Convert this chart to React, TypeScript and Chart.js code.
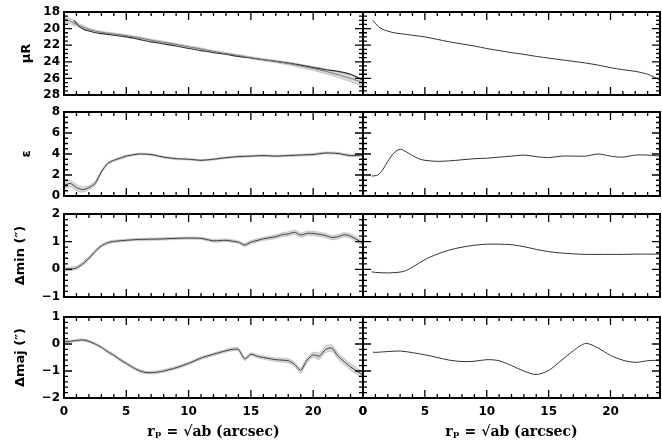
import React, { useEffect, useRef } from "react";
import { Chart, registerables } from "chart.js";

Chart.register(...registerables);

const W = 662;
const H = 445;

// ---------- tick labels ----------
const xMajorTicks = [0, 5, 10, 15, 20];
const muTicks = [18, 20, 22, 24, 26, 28];
const epsTicks = [0, 2, 4, 6, 8];
const dminTicks = [-1, 0, 1, 2];
const dmajTicks = [-2, -1, 0, 1];

// ---------- surface brightness (observed, left) ----------
const xMuObs = [0, 0.5, 1, 1.5, 2, 2.5, 3, 4, 5, 6, 7, 8, 9, 10, 11, 12, 13, 14, 15, 16, 17, 18, 19, 20, 21, 22, 23, 24];
const muObs = [18.8, 19.1, 19.5, 19.8, 20.1, 20.3, 20.45, 20.65, 20.85, 21.1, 21.4, 21.65, 21.9, 22.2, 22.45, 22.75, 23.0, 23.25, 23.5, 23.75, 23.95, 24.2, 24.5, 24.8, 25.15, 25.55, 26.0, 26.5];
const muErr = [0.45, 0.35, 0.25, 0.2, 0.15, 0.15, 0.12, 0.12, 0.12, 0.12, 0.12, 0.12, 0.12, 0.12, 0.12, 0.12, 0.12, 0.12, 0.12, 0.14, 0.15, 0.18, 0.2, 0.25, 0.3, 0.35, 0.4, 0.45];

// ---------- surface brightness (model, right) ----------
const xMuMod = [0.8, 1.2, 1.6, 2, 2.5, 3, 4, 5, 6, 7, 8, 9, 10, 11, 12, 13, 14, 15, 16, 17, 18, 19, 20, 21, 22, 23, 24];
const muMod = [19.0, 19.7, 20.1, 20.3, 20.5, 20.6, 20.8, 21.0, 21.3, 21.6, 21.85, 22.1, 22.4, 22.65, 22.9, 23.1, 23.35, 23.55, 23.75, 23.95, 24.15, 24.4, 24.7, 24.95, 25.15, 25.5, 26.2];

// ---------- ellipticity (observed, left) ----------
const xEpsObs = [0, 0.5, 1, 1.5, 2, 2.5, 3, 3.5, 4, 4.5, 5, 6, 7, 8, 9, 10, 11, 12, 13, 14, 15, 16, 17, 18, 19, 20, 21, 22, 23, 24];
const epsObs = [1.0, 1.2, 0.8, 0.6, 0.8, 1.2, 2.3, 3.1, 3.4, 3.6, 3.8, 4.0, 3.95, 3.7, 3.55, 3.5, 3.4, 3.5, 3.65, 3.75, 3.8, 3.85, 3.8, 3.85, 3.9, 3.95, 4.1, 4.05, 3.85, 3.9];
const epsErr = [0.35, 0.3, 0.3, 0.25, 0.2, 0.2, 0.15, 0.1, 0.1, 0.1, 0.1, 0.08, 0.08, 0.08, 0.08, 0.08, 0.08, 0.08, 0.08, 0.08, 0.08, 0.08, 0.08, 0.08, 0.1, 0.1, 0.1, 0.1, 0.12, 0.12];

// ---------- ellipticity (model, right) ----------
const xEpsMod = [0.7, 1.2, 1.6, 2, 2.5, 3, 3.5, 4, 4.5, 5, 6, 7, 8, 9, 10, 11, 12, 13, 14, 15, 16, 17, 18, 19, 20, 21, 22, 23, 24];
const epsMod = [1.9, 2.0, 2.5, 3.3, 4.1, 4.45, 4.2, 3.85, 3.55, 3.4, 3.3, 3.35, 3.45, 3.55, 3.6, 3.7, 3.8, 3.9, 3.75, 3.65, 3.8, 3.8, 3.8, 4.0, 3.8, 3.7, 3.9, 3.9, 3.8];

// ---------- Δmin (observed, left) ----------
const xDminObs = [0, 0.5, 1, 1.5, 2, 2.5, 3, 3.5, 4, 5, 6, 7, 8, 9, 10, 11, 12, 13, 14, 14.5, 15, 16, 17, 17.5, 18, 18.5, 19, 19.5, 20, 21, 21.5, 22, 22.5, 23, 24];
const dminObs = [0.0, 0.01, 0.05, 0.2, 0.4, 0.65, 0.85, 0.96, 1.01, 1.05, 1.08, 1.09, 1.1, 1.12, 1.13, 1.12, 1.03, 1.05, 0.98, 0.88, 0.98, 1.1, 1.18, 1.25, 1.28, 1.34, 1.24, 1.3, 1.3, 1.22, 1.15, 1.18, 1.25, 1.2, 0.95];
const dminErr = [0.06, 0.06, 0.06, 0.06, 0.06, 0.06, 0.05, 0.05, 0.04, 0.04, 0.04, 0.04, 0.04, 0.04, 0.04, 0.04, 0.05, 0.05, 0.05, 0.06, 0.06, 0.06, 0.07, 0.07, 0.08, 0.08, 0.08, 0.08, 0.08, 0.08, 0.08, 0.08, 0.08, 0.08, 0.09];

// ---------- Δmin (model, right) ----------
const xDminMod = [0.7, 1, 2, 3, 3.5, 4, 5, 6, 7, 8, 9, 10, 11, 12, 13, 14, 15, 16, 17, 18, 19, 20, 21, 22, 23, 24];
const dminMod = [-0.09, -0.11, -0.13, -0.1, -0.04, 0.08, 0.35, 0.55, 0.7, 0.8, 0.87, 0.91, 0.91, 0.89, 0.82, 0.72, 0.64, 0.59, 0.56, 0.54, 0.54, 0.54, 0.54, 0.55, 0.55, 0.55];

// ---------- Δmaj (observed, left) ----------
const xDmajObs = [0, 0.5, 1, 1.5, 2, 2.5, 3, 3.5, 4, 4.5, 5, 5.5, 6, 6.5, 7, 7.5, 8, 9, 10, 11, 12, 13, 13.5, 14, 14.5, 15, 15.5, 16, 17, 18, 18.5, 19, 19.5, 20, 20.5, 21, 21.5, 22, 22.5, 23, 24];
const dmajObs = [0.08, 0.1, 0.13, 0.15, 0.1, 0.0, -0.12, -0.28, -0.42, -0.58, -0.72, -0.86, -0.98, -1.05, -1.06, -1.04, -1.0, -0.88, -0.72, -0.52, -0.38, -0.25, -0.2, -0.2, -0.55, -0.38, -0.45, -0.5, -0.58, -0.62, -0.75, -0.98, -0.6, -0.4, -0.45, -0.2, -0.15, -0.45, -0.65, -0.85, -1.15];
const dmajErr = [0.04, 0.04, 0.04, 0.04, 0.04, 0.04, 0.04, 0.05, 0.05, 0.05, 0.05, 0.05, 0.05, 0.05, 0.05, 0.05, 0.05, 0.05, 0.05, 0.05, 0.05, 0.05, 0.06, 0.06, 0.06, 0.06, 0.06, 0.06, 0.07, 0.08, 0.08, 0.1, 0.1, 0.1, 0.12, 0.12, 0.12, 0.12, 0.12, 0.12, 0.12];

// ---------- Δmaj (model, right) ----------
const xDmajMod = [0.8, 1, 2, 3, 4, 5, 6, 7, 8, 9, 10, 11, 12, 13, 14, 15, 16, 17, 18, 19, 20, 21, 22, 23, 24];
const dmajMod = [-0.3, -0.31, -0.28, -0.26, -0.32, -0.4, -0.5, -0.6, -0.65, -0.64, -0.58, -0.62, -0.8, -1.0, -1.13, -0.98, -0.62, -0.25, 0.02, -0.15, -0.42, -0.6, -0.68, -0.62, -0.6];

// ---------- styling ----------
const TICK_FONT = { family: "'DejaVu Sans', sans-serif", size: 12, weight: "bold" as const };
const YTITLE_FONT = { family: "'DejaVu Sans', sans-serif", size: 13, weight: "bold" as const };
const XTITLE_FONT = { family: "'DejaVu Serif', serif", size: 14, weight: "bold" as const };

const X_MIN = 0;
const X_MAX = 24;

type Series = { x: number[]; y: number[]; err?: number[]; color: string; width: number; tension: number };

type PanelCfg = {
  left: number;
  right: number;
  top: number;
  bottom: number;
  yMin: number;
  yMax: number;
  yTicks: number[];
  yMajor: number;
  yMinor: number;
  reverse?: boolean;
  showY: boolean;
  yTitle?: string;
  yTitlePad?: number;
  showX: boolean;
  xTitle?: string;
  series: Series[];
};

const pts = (x: number[], y: number[]) => x.map((v, i) => ({ x: v, y: y[i] }));
const minus = (v: number | string) => String(v).replace("-", "\u2212");

// frame + inward major/minor ticks on all four sides, placed with the chart's own scales
const framePlugin = {
  id: "frame",
  afterDatasetsDraw(chart: any, _args: any, opts: any) {
    const { ctx, chartArea: a } = chart;
    const xs = chart.scales.x;
    const ys = chart.scales.y;
    const L = xs.getPixelForValue(X_MIN);
    const R = xs.getPixelForValue(X_MAX);
    ctx.save();
    ctx.strokeStyle = "#000";
    ctx.lineWidth = 1.3;
    ctx.beginPath();
    for (let v = X_MIN; v <= X_MAX + 1e-6; v += opts.xMinor) {
      const q = v / opts.xMajor;
      const len = Math.abs(q - Math.round(q)) < 1e-6 ? 8 : 4;
      const px = xs.getPixelForValue(v);
      ctx.moveTo(px, a.bottom);
      ctx.lineTo(px, a.bottom - len);
      ctx.moveTo(px, a.top);
      ctx.lineTo(px, a.top + len);
    }
    const ny = Math.round((ys.max - ys.min) / opts.yMinor);
    for (let i = 0; i <= ny; i++) {
      const v = ys.min + i * opts.yMinor;
      const q = v / opts.yMajor;
      const len = Math.abs(q - Math.round(q)) < 1e-6 ? 8 : 4;
      const py = ys.getPixelForValue(v);
      ctx.moveTo(L, py);
      ctx.lineTo(L + len, py);
      ctx.moveTo(R, py);
      ctx.lineTo(R - len, py);
    }
    ctx.stroke();
    ctx.lineWidth = 2;
    ctx.strokeRect(L, a.top, R - L, a.bottom - a.top);
    ctx.restore();
  },
};

function buildConfig(p: PanelCfg): any {
  const datasets: any[] = [];
  p.series.forEach((s) => {
    datasets.push({
      data: pts(s.x, s.y),
      borderColor: s.color,
      borderWidth: s.width,
      pointRadius: 0,
      tension: s.tension,
      fill: false,
      order: 0,
    });
  });
  p.series.forEach((s) => {
    if (!s.err) return;
    const err = s.err;
    datasets.push({
      data: pts(s.x, s.y.map((v, i) => v + err[i])),
      borderColor: "rgba(150,150,150,0.7)",
      borderWidth: 0.6,
      pointRadius: 0,
      tension: s.tension,
      fill: false,
      order: 1,
    });
    datasets.push({
      data: pts(s.x, s.y.map((v, i) => v - err[i])),
      borderColor: "rgba(150,150,150,0.7)",
      borderWidth: 0.6,
      pointRadius: 0,
      tension: s.tension,
      fill: "-1",
      backgroundColor: "rgba(170,170,170,0.45)",
      order: 1,
    });
  });

  const yWidth = p.showY ? p.left : 20;
  // the bottom-left axis also carries, at its right end, the "0" that opens the right-hand axis
  const xTickValues = p.showY && p.showX ? [...xMajorTicks, X_MAX] : xMajorTicks;

  return {
    type: "line",
    data: { datasets },
    plugins: [framePlugin],
    options: {
      animation: false,
      responsive: false,
      maintainAspectRatio: false,
      events: [],
      layout: {
        padding: {
          left: p.left - yWidth,
          right: W - p.right,
          top: p.top,
          bottom: p.showX ? 0 : H - p.bottom,
        },
      },
      plugins: {
        legend: { display: false },
        tooltip: { enabled: false },
        frame: { xMinor: 1, xMajor: 5, yMinor: p.yMinor, yMajor: p.yMajor },
      },
      scales: {
        x: {
          type: "linear",
          position: "bottom",
          min: X_MIN,
          max: X_MAX,
          display: p.showX,
          grid: { display: false, drawTicks: false },
          border: { display: false },
          afterBuildTicks: (s: any) => {
            s.ticks = xTickValues.map((v) => ({ value: v }));
          },
          ticks: {
            autoSkip: false,
            maxRotation: 0,
            padding: 7,
            color: "#000",
            font: TICK_FONT,
            callback: (v: any) => (v === X_MAX ? minus(xMajorTicks[0]) : minus(v)),
          },
          title: {
            display: !!p.xTitle,
            text: p.xTitle || "",
            color: "#000",
            font: XTITLE_FONT,
            padding: { top: 0, bottom: 4 },
          },
          afterFit: (s: any) => {
            s.height = p.showX ? H - p.bottom : 0;
          },
        },
        y: {
          type: "linear",
          position: "left",
          min: p.yMin,
          max: p.yMax,
          reverse: !!p.reverse,
          display: true,
          grid: { display: false, drawTicks: false },
          border: { display: false },
          afterBuildTicks: (s: any) => {
            s.ticks = p.yTicks.map((v) => ({ value: v }));
          },
          ticks: {
            display: p.showY,
            autoSkip: false,
            padding: 4,
            color: "#000",
            font: TICK_FONT,
            callback: (v: any) => minus(v),
          },
          title: {
            display: !!p.yTitle,
            text: p.yTitle || "",
            color: "#000",
            font: YTITLE_FONT,
            padding: { top: p.yTitlePad ?? 19, bottom: 0 },
          },
          afterFit: (s: any) => {
            s.width = yWidth;
          },
        },
      },
    },
  };
}

const LX = [64, 363];
const RX = [363, 660];
const ROWS = [
  [12, 95],
  [112, 196],
  [214, 297],
  [317, 398],
];
const X_TITLE = "r\u209A = \u221Aab (arcsec)";
const DATA_COLOR = "#3a3a3a";
const MODEL_COLOR = "#333333";

const panels: PanelCfg[] = [
  // row 1: surface brightness
  {
    left: LX[0], right: LX[1], top: ROWS[0][0], bottom: ROWS[0][1],
    yMin: 18, yMax: 28, yTicks: muTicks, yMajor: 2, yMinor: 0.5, reverse: true,
    showY: true, yTitle: "\u03BCR", yTitlePad: 19, showX: false,
    series: [
      { x: xMuObs, y: muObs, err: muErr, color: "#777", width: 1, tension: 0.2 },
      { x: xMuMod, y: muMod, color: MODEL_COLOR, width: 1.1, tension: 0.3 },
    ],
  },
  {
    left: RX[0], right: RX[1], top: ROWS[0][0], bottom: ROWS[0][1],
    yMin: 18, yMax: 28, yTicks: muTicks, yMajor: 2, yMinor: 0.5, reverse: true,
    showY: false, showX: false,
    series: [{ x: xMuMod, y: muMod, color: MODEL_COLOR, width: 1, tension: 0.3 }],
  },
  // row 2: ellipticity
  {
    left: LX[0], right: LX[1], top: ROWS[1][0], bottom: ROWS[1][1],
    yMin: 0, yMax: 8, yTicks: epsTicks, yMajor: 2, yMinor: 0.5,
    showY: true, yTitle: "\u03B5", yTitlePad: 19, showX: false,
    series: [{ x: xEpsObs, y: epsObs, err: epsErr, color: DATA_COLOR, width: 1, tension: 0.2 }],
  },
  {
    left: RX[0], right: RX[1], top: ROWS[1][0], bottom: ROWS[1][1],
    yMin: 0, yMax: 8, yTicks: epsTicks, yMajor: 2, yMinor: 0.5,
    showY: false, showX: false,
    series: [{ x: xEpsMod, y: epsMod, color: MODEL_COLOR, width: 1, tension: 0.3 }],
  },
  // row 3: Δmin
  {
    left: LX[0], right: LX[1], top: ROWS[2][0], bottom: ROWS[2][1],
    yMin: -1, yMax: 2, yTicks: dminTicks, yMajor: 1, yMinor: 0.2,
    showY: true, yTitle: "\u0394min (\u2033)", yTitlePad: 13, showX: false,
    series: [{ x: xDminObs, y: dminObs, err: dminErr, color: DATA_COLOR, width: 1, tension: 0.2 }],
  },
  {
    left: RX[0], right: RX[1], top: ROWS[2][0], bottom: ROWS[2][1],
    yMin: -1, yMax: 2, yTicks: dminTicks, yMajor: 1, yMinor: 0.2,
    showY: false, showX: false,
    series: [{ x: xDminMod, y: dminMod, color: MODEL_COLOR, width: 1, tension: 0.3 }],
  },
  // row 4: Δmaj
  {
    left: LX[0], right: LX[1], top: ROWS[3][0], bottom: ROWS[3][1],
    yMin: -2, yMax: 1, yTicks: dmajTicks, yMajor: 1, yMinor: 0.2,
    showY: true, yTitle: "\u0394maj (\u2033)", yTitlePad: 13, showX: true, xTitle: X_TITLE,
    series: [{ x: xDmajObs, y: dmajObs, err: dmajErr, color: DATA_COLOR, width: 1, tension: 0.2 }],
  },
  {
    left: RX[0], right: RX[1], top: ROWS[3][0], bottom: ROWS[3][1],
    yMin: -2, yMax: 1, yTicks: dmajTicks, yMajor: 1, yMinor: 0.2,
    showY: false, showX: true, xTitle: X_TITLE,
    series: [{ x: xDmajMod, y: dmajMod, color: MODEL_COLOR, width: 1, tension: 0.3 }],
  },
];

function Panel({ cfg }: { cfg: PanelCfg }) {
  const ref = useRef<HTMLCanvasElement>(null);
  useEffect(() => {
    if (!ref.current) return;
    const chart = new Chart(ref.current, buildConfig(cfg));
    return () => chart.destroy();
  }, [cfg]);
  return (
    <canvas
      ref={ref}
      width={W}
      height={H}
      style={{ position: "absolute", left: 0, top: 0, width: W, height: H, pointerEvents: "none" }}
    />
  );
}

export default function App() {
  return (
    <div style={{ position: "fixed", left: 0, top: 0, width: W, height: H, background: "#fff", overflow: "hidden" }}>
      {panels.map((p, i) => (
        <Panel key={i} cfg={p} />
      ))}
    </div>
  );
}
